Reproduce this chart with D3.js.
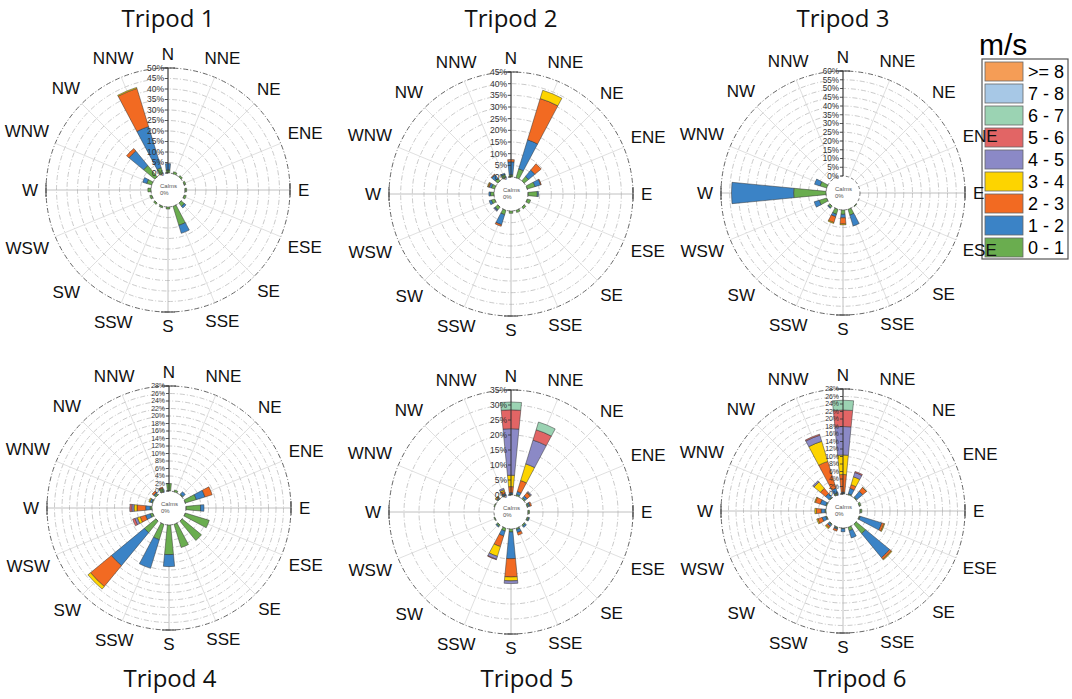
<!doctype html>
<html>
<head>
<meta charset="utf-8">
<script src="https://d3js.org/d3.v7.min.js"></script>
<style>
  body { margin: 0; background: #fff; }
  svg text { font-family: "Liberation Sans", Arial, sans-serif; }
  .title { font-family: "Open Sans", sans-serif; }
</style>
</head>
<body>
<script>
var directions = ["N", "NNE", "NE", "ENE", "E", "ESE", "SE", "SSE", "S", "SSW", "SW", "WSW", "W", "WNW", "NW", "NNW"];
var speedBins = ["0 - 1", "1 - 2", "2 - 3", "3 - 4", "4 - 5", "5 - 6", "6 - 7", "7 - 8", ">= 8"];
var binColors = ["#6aad4f", "#3b83c6", "#f26a22", "#fdd400", "#8b89c6", "#e26565", "#9bd3b3", "#a7c8e6", "#f59d56"];
var tripodNames = ["Tripod 1", "Tripod 2", "Tripod 3", "Tripod 4", "Tripod 5", "Tripod 6"];
var axisMax = [50, 45, 60, 28, 35, 28];
var axisStep = [5, 5, 5, 2, 5, 2];

// % of time per direction (N, NNE, ... NNW), split by speed bin 0-1, 1-2, 2-3, 3-4, 4-5, 5-6, 6-7
var tripod1 = [
  [1.5, 3], [1], [0.8], [0.8], [0.8], [1], [2, 1], [9.5, 4],
  [1], [0.8], [0.8], [1], [1.5], [2.5, 2], [7, 9, 1.5], [3, 20.5, 19, 0.5]
];
var tripod2 = [
  [1, 5.5, 1], [4, 13, 18.5, 3.7], [2.5, 3.5, 3.5], [3.5, 2.5, 0.3], [4, 0.5], [1.5], [1], [1],
  [1], [2, 4.5, 0.7], [1.5, 0.5, 0, 0, 0.3], [1.5, 1], [1.5, 0.7], [1.5, 1, 0.5, 0.3], [1.5, 2, 0.3], [1.5, 0.5]
];
var tripod3 = [
  [0], [0], [0], [0], [0], [0], [0.5], [3.5, 6.5],
  [2.5, 2, 3.5, 0.5], [3, 1.5, 3.5, 0.5], [1.2, 0.5], [4.5, 3], [18.5, 35.5], [4, 3.3], [0], [0]
];
var tripod4 = [
  [2], [0.5], [0.3, 0.8], [3.1, 2.4, 2], [3.9, 0.9], [6.7], [6.7], [6.5],
  [7.9, 3.2], [4.3, 8], [4, 11.4, 7.2, 0.9], [0.7, 1.3, 1.5, 0.8, 0.7, 0.6], [0.5, 1.2, 2.3, 0.8, 0.6, 0.5], [0.3, 0.5, 0, 0.3], [0.5, 0.3, 0.5], [1, 0, 0.3]
];
var tripod5 = [
  [0.3, 0.5, 2, 3.8, 15.5, 6.3, 2.6], [0.5, 1, 3.8, 5.8, 8.3, 3.6, 2.7], [0.5, 0.8, 1.3, 0.3, 0.3], [0.5, 0.5, 0.5], [0.5], [0.5, 0.3], [0.5, 0.5], [0.5, 1, 0.9],
  [1, 8.9, 6.1, 1.3, 0.9], [1, 1.7, 3.7, 3.4, 1, 0.2], [0.6, 0.3], [0.3], [0], [0.3], [0.3, 0.3, 0.3, 0.3], [0.3, 0.5, 0.8, 0.5, 0.5]
];
var tripod6 = [
  [0.2, 0.3, 4.7, 5.2, 7.6, 4.4, 2.6], [0.3, 1.5, 1, 2.2, 1.2, 0.3], [0.3, 2, 1.3, 0.1], [0.5], [0.5], [0.3, 6, 0.6, 0.2], [3.3, 8.3, 0.6, 0.2], [1, 2],
  [0.2, 0.8], [0.3, 0.3, 0.5], [0.3, 0.5, 0.5, 0.3], [0.3, 1, 1.2, 0.3], [0.3, 1, 1.3, 0.4], [0.3, 1.5, 1.4, 0.2], [0.3, 1.2, 1.8, 2.2, 0.4], [0.5, 1.3, 7.5, 5.6, 1.7, 0.3]
];
var tripodData = [tripod1, tripod2, tripod3, tripod4, tripod5, tripod6];

var width = 1072, height = 699;
var centers = [[168, 190], [511, 194], [843, 193], [169, 508], [511, 512], [843, 511]];
var titlePos = [[168, 27], [511, 27], [843, 27], [170, 687], [527, 687], [860, 687]];
var innerR = 17, outerR = 122;
var barAngle = 11 * Math.PI / 180;

var svg = d3.select("body").append("svg")
  .attr("width", width)
  .attr("height", height);

// legend first, so the rose labels sit on top of it
var legend = svg.append("g").attr("transform", "translate(982,59)");
svg.append("text")
  .attr("x", 979).attr("y", 55)
  .style("font-size", "30px")
  .text("m/s");
legend.append("rect")
  .attr("width", 86).attr("height", 200)
  .attr("fill", "#fff").attr("stroke", "#555").attr("stroke-width", 1.2);
var legendRows = d3.range(speedBins.length).reverse();
legendRows.forEach(function(b, i) {
  legend.append("rect")
    .attr("x", 3).attr("y", 3 + i * 22)
    .attr("width", 38).attr("height", 19)
    .attr("fill", binColors[b]).attr("stroke", "#666").attr("stroke-width", 0.8);
  legend.append("text")
    .attr("x", 46).attr("y", 12.5 + i * 22)
    .attr("dy", "0.35em")
    .style("font-size", "18px")
    .text(speedBins[b]);
});

tripodData.forEach(function(data, t) {
  var cx = centers[t][0], cy = centers[t][1];
  var g = svg.append("g").attr("transform", "translate(" + cx + "," + cy + ")");
  var r = d3.scaleLinear().domain([0, axisMax[t]]).range([innerR, outerR]);
  var ticks = d3.range(0, axisMax[t] + 0.001, axisStep[t]);
  var tickGap = r(axisStep[t]) - r(0);
  var tickFont = Math.min(8.5, tickGap - 0.6);

  // rings
  g.selectAll(".ring").data(ticks.slice(1)).enter().append("circle")
    .attr("r", function(d) { return r(d); })
    .attr("fill", "none")
    .attr("stroke", function(d) { return d === axisMax[t] ? "#666" : "#bdbdbd"; })
    .attr("stroke-width", function(d) { return d === axisMax[t] ? 1 : 0.8; })
    .attr("stroke-dasharray", "5,2,1,2");

  // spokes
  g.selectAll(".spoke").data(directions).enter().append("line")
    .attr("x1", function(d, i) { return innerR * Math.sin(i * Math.PI / 8); })
    .attr("y1", function(d, i) { return -innerR * Math.cos(i * Math.PI / 8); })
    .attr("x2", function(d, i) { return outerR * Math.sin(i * Math.PI / 8); })
    .attr("y2", function(d, i) { return -outerR * Math.cos(i * Math.PI / 8); })
    .attr("stroke", function(d, i) { return i % 4 === 0 ? "#b0b0b0" : "#d8d8d8"; })
    .attr("stroke-width", 0.8);

  // stacked bars
  var arc = d3.arc();
  data.forEach(function(vals, di) {
    var a = di * Math.PI / 8;
    var cum = 0;
    vals.forEach(function(v, b) {
      if (v <= 0) { return; }
      g.append("path")
        .attr("d", arc({
          innerRadius: r(cum), outerRadius: r(cum + v),
          startAngle: a - barAngle / 2, endAngle: a + barAngle / 2
        }))
        .attr("fill", binColors[b])
        .attr("stroke", "#333")
        .attr("stroke-width", 0.5);
      cum += v;
    });
  });

  // calm circle
  g.append("circle").attr("r", innerR)
    .attr("fill", "none").attr("stroke", "#555").attr("stroke-width", 0.8)
    .attr("stroke-dasharray", "3,2.5");
  g.append("text").attr("x", -8).attr("y", -2)
    .style("font-size", "6px").attr("fill", "#555").text("Calms");
  g.append("text").attr("x", -8).attr("y", 5)
    .style("font-size", "6px").attr("fill", "#555").text("0%");

  // radial axis along N
  g.append("line")
    .attr("x1", 0).attr("y1", -r(0)).attr("x2", 0).attr("y2", -outerR)
    .attr("stroke", "#333").attr("stroke-width", 1);
  g.selectAll(".tick").data(ticks).enter().append("line")
    .attr("x1", -3).attr("x2", 0)
    .attr("y1", function(d) { return -r(d); })
    .attr("y2", function(d) { return -r(d); })
    .attr("stroke", "#333").attr("stroke-width", 0.8);
  g.selectAll(".ticklabel").data(ticks).enter().append("text")
    .attr("x", -4)
    .attr("y", function(d) { return -r(d); })
    .attr("dy", "0.35em")
    .attr("text-anchor", "end")
    .style("font-size", tickFont + "px")
    .attr("fill", "#333")
    .text(function(d) { return d + "%"; });

  // small ticks on the outer circle at the four cardinal points
  [0, 1, 2, 3].forEach(function(k) {
    var a = k * Math.PI / 2;
    var px = outerR * Math.sin(a), py = -outerR * Math.cos(a);
    var tx = 7 * Math.cos(a), ty = 7 * Math.sin(a);
    g.append("line")
      .attr("x1", px - tx).attr("y1", py - ty)
      .attr("x2", px + tx).attr("y2", py + ty)
      .attr("stroke", "#333").attr("stroke-width", 1);
  });

  // direction labels
  directions.forEach(function(name, i) {
    var a = i * Math.PI / 8;
    var lab = g.append("text")
      .attr("text-anchor", "middle")
      .attr("dy", "0.35em")
      .style("font-size", "17px")
      .attr("fill", "#111")
      .text(name);
    var w = lab.node().getComputedTextLength();
    var d = outerR + 8 + (w / 2) * Math.abs(Math.sin(a)) + 6 * Math.abs(Math.cos(a));
    lab.attr("x", d * Math.sin(a)).attr("y", -d * Math.cos(a));
  });

  svg.append("text")
    .attr("class", "title")
    .attr("x", titlePos[t][0]).attr("y", titlePos[t][1])
    .attr("text-anchor", "middle")
    .style("font-size", "24px")
    .attr("fill", "#111")
    .text(tripodNames[t]);
});
</script>
</body>
</html>
